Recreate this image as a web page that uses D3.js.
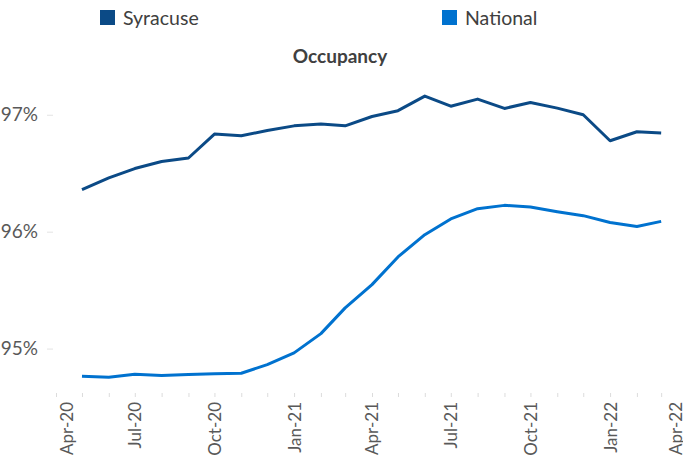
<!DOCTYPE html>
<html>
<head>
<meta charset="utf-8">
<script src="https://cdn.jsdelivr.net/npm/d3@7"></script>
<style>
  body { margin: 0; background: #fff; }
  text { font-family: Lato, "Open Sans", sans-serif; }
</style>
</head>
<body>
<div id="chart"></div>
<script>
// monthly readings, May-20 .. Mar-22
const months = ["2020-05","2020-06","2020-07","2020-08","2020-09","2020-10","2020-11","2020-12",
  "2021-01","2021-02","2021-03","2021-04","2021-05","2021-06","2021-07","2021-08","2021-09",
  "2021-10","2021-11","2021-12","2022-01","2022-02","2022-03"];
const syracuse = [96.36, 96.46, 96.54, 96.60, 96.63, 96.835, 96.82, 96.865, 96.905, 96.92, 96.905,
  96.985, 97.035, 97.16, 97.073, 97.134, 97.054, 97.105, 97.057, 97.00, 96.778, 96.855, 96.844];
const national = [94.763, 94.755, 94.78, 94.769, 94.778, 94.784, 94.789, 94.863, 94.963, 95.128,
  95.348, 95.547, 95.784, 95.974, 96.109, 96.197, 96.225, 96.211, 96.171, 96.137, 96.079, 96.045, 96.088];
const yTicks = [95, 96, 97];
const seriesNames = ["Syracuse", "National"];
const colors = ["#0b4a86", "#0072cf"];

const width = 683;
const height = 465;
const parse = d3.timeParse("%Y-%m");
const fmt = d3.timeFormat("%b-%y");

const svg = d3.select("#chart").append("svg")
  .attr("width", width).attr("height", height);

const x = d3.scaleTime()
  .domain([parse("2020-04"), parse("2022-04")])
  .range([56, 688]);
const y = d3.scaleLinear()
  .domain([94.62, 97.4])
  .range([393, 68]);

// y axis
const yAxis = svg.append("g")
  .attr("transform", "translate(53,0)")
  .call(d3.axisLeft(y).tickValues(yTicks).tickSize(6).tickPadding(9)
    .tickFormat(d => d + "%"));
yAxis.select(".domain").remove();
yAxis.selectAll("line").attr("stroke", "#e3e3e3");
yAxis.selectAll("text").attr("fill", "#595959").style("font-size", "19px");

// x axis: monthly ticks, quarterly labels
const xAxis = svg.append("g")
  .attr("transform", "translate(0,393)")
  .call(d3.axisBottom(x).ticks(d3.timeMonth.every(1)).tickSize(4)
    .tickFormat(d => d.getMonth() % 3 === 0 ? fmt(d) : ""));
xAxis.select(".domain").remove();
xAxis.selectAll("line").attr("stroke", "#dcdcdc");
const domainEnds = x.domain().map(d => +d);
xAxis.selectAll("text")
  .attr("fill", "#595959")
  .style("font-size", "17px")
  .attr("text-anchor", "end")
  .attr("transform", d => {
    let dx = 0;
    if (+d === domainEnds[0]) dx = 11;
    if (+d === domainEnds[1]) dx = -12;
    return `translate(${dx},9) rotate(-90)`;
  })
  .attr("x", 0).attr("y", 0).attr("dy", "0.35em");

// lines
const dates = months.map(parse);
const line = d3.line().x((d, i) => x(dates[i])).y(d => y(d));
[syracuse, national].forEach((vals, i) => {
  svg.append("path")
    .datum(vals)
    .attr("fill", "none")
    .attr("stroke", colors[i])
    .attr("stroke-width", 3)
    .attr("stroke-linejoin", "round")
    .attr("d", line);
});

// title
svg.append("text")
  .attr("x", 340).attr("y", 63)
  .attr("text-anchor", "middle")
  .attr("fill", "#404040")
  .style("font-size", "19px").style("font-weight", "bold")
  .text("Occupancy");

// legend
const legendX = [100, 442];
const legend = svg.selectAll(".legend").data(seriesNames).enter().append("g")
  .attr("transform", (d, i) => `translate(${legendX[i]},10)`);
legend.append("rect")
  .attr("width", 15).attr("height", 15)
  .attr("fill", (d, i) => colors[i]);
legend.append("text")
  .attr("x", 23).attr("y", 14.5)
  .attr("fill", "#404040")
  .style("font-size", "19.5px")
  .text(d => d);
</script>
</body>
</html>
